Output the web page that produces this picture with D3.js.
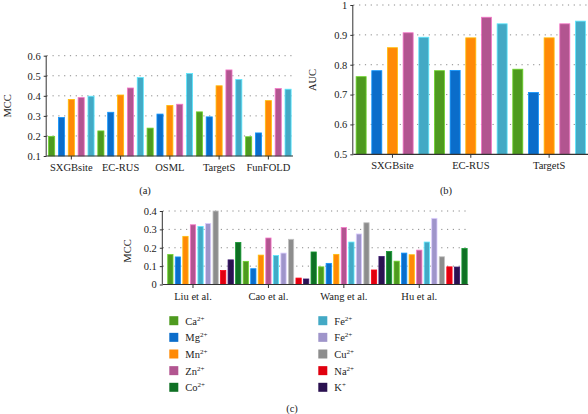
<!DOCTYPE html>
<html>
<head>
<meta charset="utf-8">
<script src="https://cdn.jsdelivr.net/npm/d3@7"></script>
<style>
  html, body { margin: 0; padding: 0; background: #fff; }
  svg { display: block; font-family: "Liberation Serif", "DejaVu Serif", serif; }
</style>
</head>
<body>
<svg id="chart" width="588" height="414"></svg>
<script>
// ---------- data ----------
const seriesAB = ["Ca", "Mg", "Mn", "Zn", "Fe"];
const methodsA = ["SXGBsite", "EC-RUS", "OSML", "TargetS", "FunFOLD"];
const mccA = [
  [0.198, 0.292, 0.382, 0.391, 0.398],
  [0.225, 0.318, 0.404, 0.439, 0.491],
  [0.239, 0.309, 0.352, 0.358, 0.511],
  [0.320, 0.295, 0.450, 0.529, 0.481],
  [0.196, 0.215, 0.376, 0.436, 0.433]
];
const ticksA = [0.1, 0.2, 0.3, 0.4, 0.5, 0.6];
const tickLabelsA = ["0.1", "0.2", "0.3", "0.4", "0.5", "0.6"];

const methodsB = ["SXGBsite", "EC-RUS", "TargetS"];
const aucB = [
  [0.760, 0.780, 0.857, 0.907, 0.892],
  [0.780, 0.781, 0.890, 0.959, 0.937],
  [0.785, 0.707, 0.890, 0.937, 0.946]
];
const ticksB = [0.5, 0.6, 0.7, 0.8, 0.9, 1.0];
const tickLabelsB = ["0.5", "0.6", "0.7", "0.8", "0.9", "1"];

const studiesC = ["Liu et al.", "Cao et al.", "Wang et al.", "Hu et al."];
const ionKeysC = ["Ca", "Mg", "Mn", "Zn", "Fe1", "Fe2", "Cu", "Na", "K", "Co"];
const ionNamesC = ["Ca", "Mg", "Mn", "Zn", "Fe", "Fe", "Cu", "Na", "K", "Co"];
const ionChargesC = ["2+", "2+", "2+", "2+", "2+", "2+", "2+", "2+", "+", "2+"];
const mccC = [
  [0.163, 0.150, 0.262, 0.325, 0.316, 0.332, 0.400, 0.076, 0.134, 0.229],
  [0.126, 0.086, 0.160, 0.253, 0.158, 0.171, 0.246, 0.035, 0.030, 0.177],
  [0.096, 0.115, 0.164, 0.310, 0.231, 0.275, 0.336, 0.079, 0.152, 0.180],
  [0.127, 0.171, 0.162, 0.187, 0.231, 0.360, 0.151, 0.096, 0.095, 0.196]
];
const ticksC = [0, 0.1, 0.2, 0.3, 0.4];
const tickLabelsC = ["0", "0.1", "0.2", "0.3", "0.4"];
const legendLeftC = ["Ca", "Mg", "Mn", "Zn", "Co"];
const legendRightC = ["Fe1", "Fe2", "Cu", "Na", "K"];

const colors = {
  Ca: "#4e9a1f", Mg: "#0b6dca", Mn: "#ff8a06", Zn: "#b25590", Fe: "#43a9c5",
  Fe1: "#43a9c5", Fe2: "#9f95ca", Cu: "#8d8d8d", Na: "#e0000f", K: "#2a1150", Co: "#0f7024"
};

// ---------- helpers ----------
const svg = d3.select("#chart");
const textColor = "#222";

function gridAndYAxis(g, y, ticks, labels, x0, x1, labelSize) {
  g.append("g").selectAll("line").data(ticks.slice(1)).join("line")
    .attr("x1", x0).attr("x2", x1)
    .attr("y1", d => y(d)).attr("y2", d => y(d))
    .attr("stroke", "#8a8a8a").attr("stroke-width", 1)
    .attr("stroke-dasharray", "1.2,4.6");
  const ax = g.append("g").attr("transform", `translate(${x0},0)`)
    .call(d3.axisLeft(y).tickValues(ticks).tickSize(3).tickPadding(3)
      .tickFormat((d, i) => labels[i]));
  ax.select(".domain").attr("stroke", "#333").attr("d", `M-0.5,${y(ticks[0])}V${y(ticks[ticks.length-1])}`);
  ax.selectAll(".tick line").attr("stroke", "#333");
  ax.selectAll(".tick text").attr("fill", textColor)
    .style("font-size", labelSize + "px").style("font-family", "Liberation Serif, serif");
}

function xAxisLine(g, yBase, x0, x1, tickXs, labels, labelSize) {
  g.append("line").attr("x1", x0).attr("x2", x1).attr("y1", yBase).attr("y2", yBase)
    .attr("stroke", "#333").attr("stroke-width", 1.2);
  g.append("g").selectAll("line").data(tickXs).join("line")
    .attr("x1", d => d).attr("x2", d => d).attr("y1", yBase).attr("y2", yBase + 3.5)
    .attr("stroke", "#333");
  g.append("g").selectAll("text").data(labels).join("text")
    .attr("x", (d, i) => tickXs[i]).attr("y", yBase + 15)
    .attr("text-anchor", "middle").attr("fill", textColor)
    .style("font-size", labelSize + "px").text(d => d);
}

function drawBars(g, data, groups, keys, x0, x1, y, colorKeys) {
  g.append("g").selectAll("g").data(data).join("g")
    .attr("transform", (d, i) => `translate(${x0(groups[i])},0)`)
    .selectAll("rect").data(d => d.map((v, j) => ({ v, k: keys[j], c: colorKeys[j] }))).join("rect")
    .attr("x", d => x1(d.k)).attr("width", x1.bandwidth())
    .attr("y", d => y(d.v)).attr("height", d => y.range()[0] - y(d.v))
    .attr("fill", d => colors[d.c])
    .attr("stroke", d => d3.color(colors[d.c]).brighter(0.9).formatHex())
    .attr("stroke-width", 0.8);
}

// ---------- panel (a) ----------
{
  const g = svg.append("g");
  const left = 46.7, right = 293, top = 55.7, bottom = 156;
  const y = d3.scaleLinear().domain([0.1, 0.6]).range([bottom, top]);
  const x0 = d3.scaleBand().domain(methodsA).range([left, right]);
  const x1 = d3.scaleBand().domain(seriesAB).range([0, x0.bandwidth()])
    .paddingInner(0.38).paddingOuter(0.19);
  gridAndYAxis(g, y, ticksA, tickLabelsA, left, right, 10.5);
  drawBars(g, mccA, methodsA, seriesAB, x0, x1, y, seriesAB);
  xAxisLine(g, bottom, left, right, methodsA.map(m => x0(m) + x0.bandwidth() / 2), methodsA, 10.5);
  g.append("text").attr("transform", `translate(11,${(top + bottom) / 2}) rotate(-90)`)
    .attr("text-anchor", "middle").attr("fill", textColor).style("font-size", "10.5px").text("MCC");
  g.append("text").attr("x", 145).attr("y", 194).attr("text-anchor", "middle")
    .attr("fill", textColor).style("font-size", "10.5px").text("(a)");
}

// ---------- panel (b) ----------
{
  const g = svg.append("g");
  const left = 353.3, right = 588.3, top = 5, bottom = 154.3;
  const y = d3.scaleLinear().domain([0.5, 1.0]).range([bottom, top]);
  const x0 = d3.scaleBand().domain(methodsB).range([left, right]);
  const x1 = d3.scaleBand().domain(seriesAB).range([0, x0.bandwidth()])
    .paddingInner(0.36).paddingOuter(0.18);
  gridAndYAxis(g, y, ticksB, tickLabelsB, left, right, 10.5);
  drawBars(g, aucB, methodsB, seriesAB, x0, x1, y, seriesAB);
  xAxisLine(g, bottom, left, right, methodsB.map(m => x0(m) + x0.bandwidth() / 2), methodsB, 10.5);
  g.append("text").attr("transform", `translate(316,80) rotate(-90)`)
    .attr("text-anchor", "middle").attr("fill", textColor).style("font-size", "10.5px").text("AUC");
  g.append("text").attr("x", 446).attr("y", 194).attr("text-anchor", "middle")
    .attr("fill", textColor).style("font-size", "10.5px").text("(b)");
}

// ---------- panel (c) ----------
{
  const g = svg.append("g");
  const axisLeft = 162.8, left = 166.6, right = 468.3, top = 211, bottom = 284.5;
  const y = d3.scaleLinear().domain([0, 0.4]).range([bottom, top]);
  const x0 = d3.scaleBand().domain(studiesC).range([left, right]);
  const x1 = d3.scaleBand().domain(ionKeysC).range([0, x0.bandwidth()])
    .paddingInner(0.3).paddingOuter(0.15);
  gridAndYAxis(g, y, ticksC, tickLabelsC, axisLeft, right, 10.5);
  drawBars(g, mccC, studiesC, ionKeysC, x0, x1, y, ionKeysC);
  const tickXs = studiesC.map(s => x0(s) + x1("Zn") + x1.bandwidth() / 2);
  xAxisLine(g, bottom, axisLeft, right, tickXs, studiesC, 10.5);
  g.append("text").attr("transform", `translate(131,251) rotate(-90)`)
    .attr("text-anchor", "middle").attr("fill", textColor).style("font-size", "10.5px").text("MCC");

  // legend
  const rowY = d3.scalePoint().domain(d3.range(5)).range([320.7, 387.3]);
  const cols = [{ keys: legendLeftC, x: 169.3 }, { keys: legendRightC, x: 318.3 }];
  cols.forEach(col => {
    const items = g.append("g").selectAll("g").data(col.keys).join("g")
      .attr("transform", (d, i) => `translate(${col.x},${rowY(i)})`);
    items.append("rect").attr("x", 0).attr("y", -4.5).attr("width", 9).attr("height", 9)
      .attr("fill", d => colors[d]);
    const t = items.append("text").attr("x", 16).attr("y", 4).attr("fill", textColor)
      .style("font-size", "10.5px");
    t.append("tspan").text(d => ionNamesC[ionKeysC.indexOf(d)]);
    t.append("tspan").attr("dy", -4).style("font-size", "7px")
      .text(d => ionChargesC[ionKeysC.indexOf(d)]);
  });
  g.append("text").attr("x", 292).attr("y", 412).attr("text-anchor", "middle")
    .attr("fill", textColor).style("font-size", "10.5px").text("(c)");
}
</script>
</body>
</html>
